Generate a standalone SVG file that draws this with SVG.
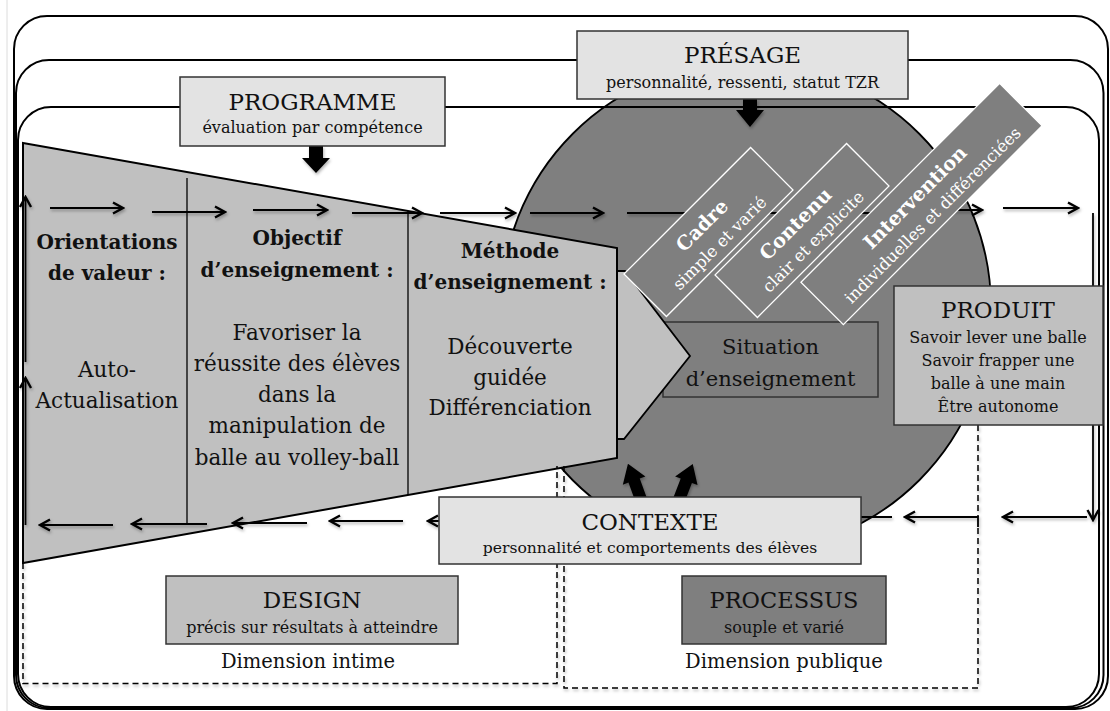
<svg xmlns="http://www.w3.org/2000/svg" width="1110" height="711" viewBox="0 0 1110 711">
<defs>
<style>
text{font-family:"DejaVu Serif","Liberation Serif",serif;fill:#111;text-anchor:middle}
.t{font-size:23px}
.s{font-size:16px}
.b{font-size:20px;font-weight:bold}
.r{font-size:21.5px}
.p{font-size:19.5px}
.wt{font-size:19.5px;font-weight:bold;fill:#fff}
.ws{font-size:16.5px;fill:#fff}
.frame{fill:none;stroke:#000;stroke-width:2}
.light{fill:#e3e3e3;stroke:#333;stroke-width:1.5}
.mid{fill:#c0c0c0;stroke:#333;stroke-width:1.5}
.dark{fill:#7f7f7f;stroke:#333;stroke-width:1.5}
.band{fill:#7f7f7f;stroke:#fff;stroke-width:1.3}
.ar{fill:none;stroke:#000;stroke-width:1.8;marker-end:url(#ah)}
.dash{fill:none;stroke:#000;stroke-width:1.5;stroke-dasharray:6 4}
.thick{fill:#000}
</style>
<marker id="ah" viewBox="0 0 14 14" refX="12" refY="7" markerWidth="14" markerHeight="14" markerUnits="userSpaceOnUse" orient="auto">
<path d="M2,1.5 L12,7 L2,12.5" fill="none" stroke="#000" stroke-width="2.4"/>
</marker>
<filter id="sh" x="-5%" y="-5%" width="110%" height="110%">
<feDropShadow dx="1" dy="2" stdDeviation="1.5" flood-color="#000" flood-opacity="0.3"/>
</filter>
</defs>
<rect width="1110" height="711" fill="#fff"/>
<line x1="7" y1="0" x2="7" y2="711" stroke="#dcdcdc" stroke-width="1"/>

<g id="cercle"><circle cx="746" cy="307" r="245" fill="#7f7f7f" stroke="#000" stroke-width="1.8"/></g>

<g id="cadres">
<rect class="frame" x="14" y="16" width="1094" height="693" rx="33"/>
<rect class="frame" x="16" y="60" width="1087.5" height="648" rx="33"/>
<rect class="frame" x="18" y="107" width="1081" height="600" rx="33"/>
</g>

<g id="situation">
<rect class="dark" x="663" y="322" width="215" height="75"/>
<text class="r" x="770.5" y="354" style="font-size:21px">Situation</text>
<text class="r" x="770.5" y="386" style="font-size:21px">d’enseignement</text>
</g>

<g id="fleche-design">
<path d="M617,271 L625,271 L690,356 L624,439 L617,439 Z" fill="#c0c0c0" stroke="#000" stroke-width="1.8"/>
<polygon points="23,143 617,248 617,458 23,563" fill="#c0c0c0" stroke="#000" stroke-width="2"/>
<line x1="187" y1="178" x2="187" y2="524" stroke="#000" stroke-width="1.3"/>
<line x1="408" y1="211" x2="408" y2="495" stroke="#000" stroke-width="1.3"/>
</g>

<g id="orientations">
<text class="b" x="107" y="249">Orientations</text>
<text class="b" x="107" y="280">de valeur :</text>
<text class="r" x="107" y="377">Auto-</text>
<text class="r" x="107" y="408">Actualisation</text>
</g>
<g id="objectif">
<text class="b" x="297" y="245">Objectif</text>
<text class="b" x="297" y="277">d’enseignement :</text>
<text class="r" x="297" y="340">Favoriser la</text>
<text class="r" x="297" y="371">réussite des élèves</text>
<text class="r" x="297" y="402">dans la</text>
<text class="r" x="297" y="433">manipulation de</text>
<text class="r" x="297" y="465">balle au volley-ball</text>
</g>
<g id="methode">
<text class="b" x="510" y="258">Méthode</text>
<text class="b" x="510" y="289">d’enseignement :</text>
<text class="r" x="510" y="354">Découverte</text>
<text class="r" x="510" y="385">guidée</text>
<text class="r" x="510" y="415">Différenciation</text>
</g>

<g id="connecteurs" filter="url(#sh)">
<line class="ar" x1="50" y1="208" x2="123" y2="208"/>
<line class="ar" x1="152" y1="212" x2="225" y2="212"/>
<line class="ar" x1="253" y1="210" x2="327" y2="210"/>
<line class="ar" x1="352" y1="213" x2="422" y2="213"/>
<line class="ar" x1="440" y1="213" x2="515" y2="213"/>
<line class="ar" x1="530" y1="213" x2="603" y2="213"/>
<line class="ar" x1="627" y1="213" x2="702" y2="213"/>
<line class="ar" x1="720" y1="213" x2="795" y2="213"/>
<line class="ar" x1="815" y1="213" x2="890" y2="213"/>
<line class="ar" x1="907" y1="210" x2="982" y2="210"/>
<line class="ar" x1="1003" y1="208" x2="1078" y2="208"/>
<line class="ar" x1="1093" y1="213" x2="1093" y2="520"/>
<line class="ar" x1="1087" y1="517" x2="1003" y2="517"/>
<path class="ar" d="M978,527 L978,517 L905,517"/>
<line class="ar" x1="892" y1="517" x2="815" y2="517"/>
<line class="ar" x1="500" y1="521" x2="428" y2="521"/>
<line class="ar" x1="403" y1="521" x2="330" y2="521"/>
<line class="ar" x1="307" y1="523" x2="233" y2="523"/>
<line class="ar" x1="207" y1="524" x2="132" y2="524"/>
<line class="ar" x1="113" y1="525" x2="40" y2="525"/>
<line class="ar" x1="25.5" y1="525" x2="25.5" y2="378"/>
<line class="ar" x1="25.5" y1="362" x2="25.5" y2="197"/>
<polygon class="thick" points="309,146 323,146 323,158 330,158 316,173 302,158 309,158"/>
<polygon class="thick" points="743,99 757,99 757,110 764,110 750,127 736,110 743,110"/>
<polygon class="thick" transform="translate(643,505) rotate(-20)" points="-6,0 6,0 6,-26 12,-26 0,-44 -12,-26 -6,-26"/>
<polygon class="thick" transform="translate(677,505) rotate(21)" points="-6,0 6,0 6,-26 12,-26 0,-44 -12,-26 -6,-26"/>
<path class="dash" d="M23,563 L23,683.5 L557,683.5 L557,466"/>
<path class="dash" d="M564,466 L564,688 L978,688 L978,527"/>
<line class="dash" x1="978" y1="425" x2="978" y2="517"/>
</g>

<g id="cadre" transform="translate(708.5,232) rotate(-45)">
<rect class="band" x="-89.5" y="-30" width="179" height="60"/>
<text class="wt" x="0" y="-2.5">Cadre</text>
<text class="ws" x="0" y="21.5">simple et varié</text>
</g>
<g id="contenu" transform="translate(802,230.5) rotate(-45)">
<rect class="band" x="-93" y="-30" width="186" height="60"/>
<text class="wt" x="0" y="-2.5">Contenu</text>
<text class="ws" x="0" y="21.5">clair et explicite</text>
</g>
<g id="intervention" transform="translate(921.5,204) rotate(-45)">
<rect class="band" x="-140.5" y="-30" width="281" height="60"/>
<text class="wt" x="0" y="-2.5">Intervention</text>
<text class="ws" x="0" y="21.5">individuelles et différenciées</text>
</g>

<g id="programme">
<rect class="light" x="180" y="77" width="265" height="69"/>
<text class="t" x="312.5" y="110">PROGRAMME</text>
<text class="s" x="312.5" y="133">évaluation par compétence</text>
</g>
<g id="presage">
<rect class="light" x="577" y="31" width="331" height="68"/>
<text class="t" x="742.5" y="63">PRÉSAGE</text>
<text class="s" x="742.5" y="88">personnalité, ressenti, statut TZR</text>
</g>
<g id="produit">
<rect class="mid" x="894" y="286" width="209" height="139"/>
<text class="t" x="998" y="318">PRODUIT</text>
<text class="s" x="998" y="343">Savoir lever une balle</text>
<text class="s" x="998" y="366">Savoir frapper une</text>
<text class="s" x="998" y="389">balle à une main</text>
<text class="s" x="998" y="412">Être autonome</text>
</g>
<g id="contexte">
<rect class="light" x="439" y="497" width="422" height="67"/>
<text class="t" x="650" y="530">CONTEXTE</text>
<text class="s" x="650" y="553" style="font-size:15.6px">personnalité et comportements des élèves</text>
</g>
<g id="design">
<rect class="mid" x="166" y="576" width="292" height="68"/>
<text class="t" x="312" y="608">DESIGN</text>
<text class="s" x="312" y="633">précis sur résultats à atteindre</text>
<text class="p" x="308" y="668">Dimension intime</text>
</g>
<g id="processus">
<rect class="dark" x="682" y="576" width="204" height="68"/>
<text class="t" x="784" y="608" style="font-size:22.5px">PROCESSUS</text>
<text class="s" x="784" y="633">souple et varié</text>
<text class="p" x="784" y="668">Dimension publique</text>
</g>
</svg>
